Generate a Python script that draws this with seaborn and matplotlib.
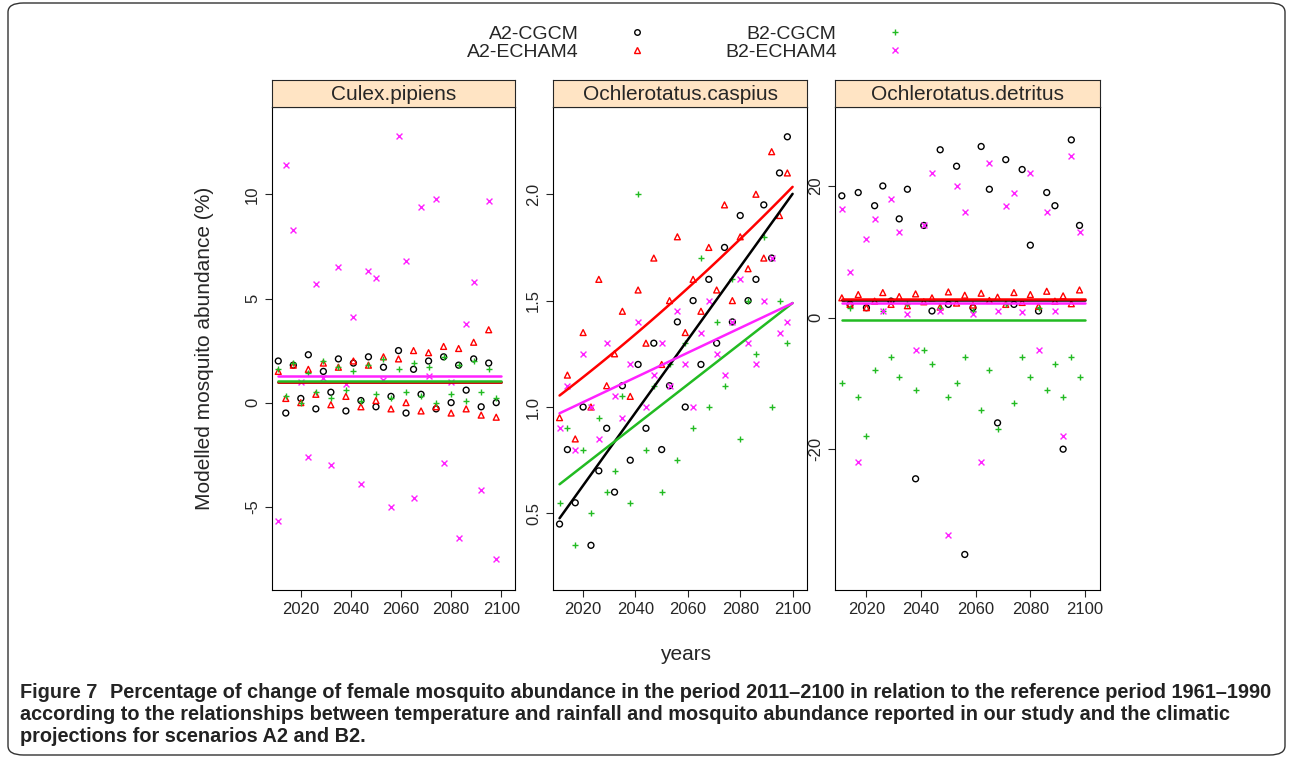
import matplotlib
matplotlib.use("Agg")
import matplotlib.pyplot as plt
import numpy as np
import pandas as pd
import seaborn as sns
from matplotlib.patches import FancyBboxPatch
from matplotlib.lines import Line2D

sns.set_style("white")
plt.rcParams['font.family'] = ['Liberation Sans', 'DejaVu Sans']

years = np.arange(2011, 2101, 3)
panels = ["Culex.pipiens", "Ochlerotatus.caspius", "Ochlerotatus.detritus"]
series = ["A2-CGCM", "A2-ECHAM4", "B2-CGCM", "B2-ECHAM4"]

culex = {
    "A2-CGCM": [2.0, -0.5, 1.8, 0.2, 2.3, -0.3, 1.5, 0.5, 2.1, -0.4, 1.9, 0.1, 2.2, -0.2, 1.7,
                0.3, 2.5, -0.5, 1.6, 0.4, 2.0, -0.3, 2.2, 0.0, 1.8, 0.6, 2.1, -0.2, 1.9, 0.0],
    "B2-CGCM": [1.6, 0.3, 1.9, 0.0, 1.4, 0.5, 2.0, 0.2, 1.7, 0.6, 1.5, 0.1, 1.8, 0.4, 2.1,
                0.2, 1.6, 0.5, 1.9, 0.3, 1.7, 0.0, 2.2, 0.4, 1.8, 0.1, 2.0, 0.5, 1.6, 0.2],
    "A2-ECHAM4": [1.5, 0.2, 1.8, 0.0, 1.6, 0.4, 1.9, -0.1, 1.7, 0.3, 2.0, -0.2, 1.8, 0.1, 2.2,
                  -0.3, 2.1, 0.0, 2.5, -0.4, 2.4, -0.2, 2.7, -0.5, 2.6, -0.3, 2.9, -0.6, 3.5, -0.7],
    "B2-ECHAM4": [-5.7, 11.4, 8.3, 1.0, -2.6, 5.7, 1.2, -3.0, 6.5, 0.9, 4.1, -3.9, 6.3, 6.0, 1.1,
                  -5.0, 12.8, 6.8, -4.6, 9.4, 1.3, 9.8, -2.9, 1.0, -6.5, 3.8, 5.8, -4.2, 9.7, -7.5],
}
caspius = {
    "A2-CGCM": [0.45, 0.8, 0.55, 1.0, 0.35, 0.7, 0.9, 0.6, 1.1, 0.75, 1.2, 0.9, 1.3, 0.8, 1.1,
                1.4, 1.0, 1.5, 1.2, 1.6, 1.3, 1.75, 1.4, 1.9, 1.5, 1.6, 1.95, 1.7, 2.1, 2.27],
    "B2-CGCM": [0.55, 0.9, 0.35, 0.8, 0.5, 0.95, 0.6, 0.7, 1.05, 0.55, 2.0, 0.8, 1.1, 0.6, 1.2,
                0.75, 1.3, 0.9, 1.7, 1.0, 1.4, 1.1, 1.6, 0.85, 1.5, 1.25, 1.8, 1.0, 1.5, 1.3],
    "A2-ECHAM4": [0.95, 1.15, 0.85, 1.35, 1.0, 1.6, 1.1, 1.25, 1.45, 1.05, 1.55, 1.3, 1.7, 1.2, 1.5,
                  1.8, 1.35, 1.6, 1.45, 1.75, 1.55, 1.95, 1.5, 1.8, 1.65, 2.0, 1.7, 2.2, 1.9, 2.1],
    "B2-ECHAM4": [0.9, 1.1, 0.8, 1.25, 1.0, 0.85, 1.3, 1.05, 0.95, 1.2, 1.4, 1.0, 1.15, 1.3, 1.1,
                  1.45, 1.2, 1.0, 1.35, 1.5, 1.25, 1.15, 1.4, 1.6, 1.3, 1.2, 1.5, 1.7, 1.35, 1.4],
}
detritus = {
    "A2-CGCM": [18.5, 2.0, 19.0, 1.5, 17.0, 20.0, 2.5, 15.0, 19.5, -24.5, 14.0, 1.0, 25.5, 2.0, 23.0,
                -36.0, 1.5, 26.0, 19.5, -16.0, 24.0, 2.0, 22.5, 11.0, 1.0, 19.0, 17.0, -20.0, 27.0, 14.0],
    "B2-CGCM": [-10, 1.5, -12, -18, -8, 1.0, -6, -9, 2.0, -11, -5, -7, 1.5, -12, -10,
                -6, 1.0, -14, -8, -17, 2.0, -13, -6, -9, 1.5, -11, -7, -12, -6, -9],
    "A2-ECHAM4": [3.0, 2.0, 3.5, 1.5, 2.5, 3.8, 2.0, 3.2, 1.8, 3.6, 2.4, 3.0, 1.6, 3.9, 2.2,
                  3.4, 1.9, 3.7, 2.6, 3.1, 2.0, 3.8, 2.3, 3.5, 1.7, 4.0, 2.5, 3.3, 2.1, 4.2],
    "B2-ECHAM4": [16.5, 7.0, -22.0, 12.0, 15.0, 1.0, 18.0, 13.0, 0.5, -5, 14.0, 22.0, 1.0, -33.0, 20.0,
                  16.0, 0.5, -22, 23.5, 1.0, 17.0, 19.0, 0.8, 22.0, -5.0, 16.0, 1.0, -18.0, 24.5, 13.0],
}
panel_data = [culex, caspius, detritus]
ylims = [(-9.0, 14.2), (0.14, 2.41), (-41.4, 32.0)]
yticks = [[-5, 0, 5, 10], [0.5, 1.0, 1.5, 2.0], [-20, 0, 20]]

style = {
    "A2-CGCM": dict(marker="o", color="black", face="none"),
    "A2-ECHAM4": dict(marker="^", color="red", face="none"),
    "B2-CGCM": dict(marker="+", color="#22bb22", face=None),
    "B2-ECHAM4": dict(marker="x", color="#ff22ff", face=None),
}

fig = plt.figure(figsize=(12.92, 7.63), dpi=100)
fig.patches.append(FancyBboxPatch((8 / 1292, 8 / 763), 1277 / 1292, 752 / 763,
                                  boxstyle="round,pad=0,rounding_size=0.012",
                                  transform=fig.transFigure, fill=False, ec="#333333", lw=1))

lefts = [272, 553, 835]
widths = [243, 254, 265]
for i, name in enumerate(panels):
    ax = fig.add_axes([lefts[i] / 1292, 1 - 590 / 763, widths[i] / 1292, 483 / 763])
    st = fig.add_axes([lefts[i] / 1292, 1 - 107 / 763, widths[i] / 1292, 27 / 763])
    st.set_facecolor("#ffe4c4")
    st.set_xticks([]); st.set_yticks([])
    st.text(0.5, 0.45, name, ha="center", va="center", fontsize=15, transform=st.transAxes)
    for s in series:
        vals = np.array(panel_data[i][s])
        df = pd.DataFrame({"year": years, "value": vals})
        stl = style[s]
        kw = dict(marker=stl["marker"], s=18, linewidth=1.0)
        if stl["face"] == "none":
            kw.update(facecolors="none", edgecolors=stl["color"])
        else:
            kw.update(color=stl["color"])
        sns.scatterplot(data=df, x="year", y="value", ax=ax, legend=False, **kw)
        # smooth trend
        if i == 1:
            deg = 2 if s == "A2-ECHAM4" else 1
            med = vals
        elif i == 0:
            deg, med = 0, np.clip(vals, -1, 3)
        else:
            deg, med = 0, np.clip(vals, -1, 4)
        coef = np.polyfit(years, med, deg)
        xs = np.linspace(2011, 2100, 100)
        sns.lineplot(x=xs, y=np.polyval(coef, xs), ax=ax, color=stl["color"], lw=1.8)
    ax.set_xlim(2008.5, 2105.5)
    ax.set_ylim(*ylims[i])
    ax.set_xticks([2020, 2040, 2060, 2080, 2100])
    ax.set_yticks(yticks[i])
    ax.set_yticklabels([f"{t:g}" if i != 1 else f"{t:.1f}" for t in yticks[i]],
                       rotation=90, va="center")
    ax.tick_params(axis="both", labelsize=12, length=5, left=True, bottom=True, direction="out")
    ax.set_xlabel(""); ax.set_ylabel("")
    for sp in ax.spines.values():
        sp.set_color("black")

fig.text(205 / 1292, 1 - 348 / 763, "Modelled mosquito abundance (%)", rotation=90,
         ha="center", va="center", fontsize=15)
fig.text(686 / 1292, 1 - 655 / 763, "years", ha="center", va="center", fontsize=15)

handles = []
for s in series:
    stl = style[s]
    handles.append(Line2D([], [], ls="none", marker=stl["marker"], color=stl["color"],
                          markerfacecolor="none" if stl["face"] == "none" else stl["color"],
                          markersize=4))
fig.legend(handles, series, loc="center", bbox_to_anchor=(686 / 1292, 1 - 43 / 763),
           ncol=2, frameon=False, markerfirst=False, fontsize=14, handletextpad=2.5,
           columnspacing=4, labelspacing=0.05, handlelength=1)

cap_kw = dict(fontsize=14.3, fontweight="semibold", color="#222222", va="center")
fig.text(20 / 1292, 1 - 692 / 763, "Figure 7", fontsize=14.3, fontweight="bold", va="center")
fig.text(110 / 1292, 1 - 692 / 763,
         "Percentage of change of female mosquito abundance in the period 2011\u20132100 in relation to the reference period 1961\u20131990",
         **cap_kw)
fig.text(20 / 1292, 1 - 714 / 763,
         "according to the relationships between temperature and rainfall and mosquito abundance reported in our study and the climatic",
         **cap_kw)
fig.text(20 / 1292, 1 - 737 / 763, "projections for scenarios A2 and B2.", **cap_kw)

fig.savefig("out.png", dpi=100)
